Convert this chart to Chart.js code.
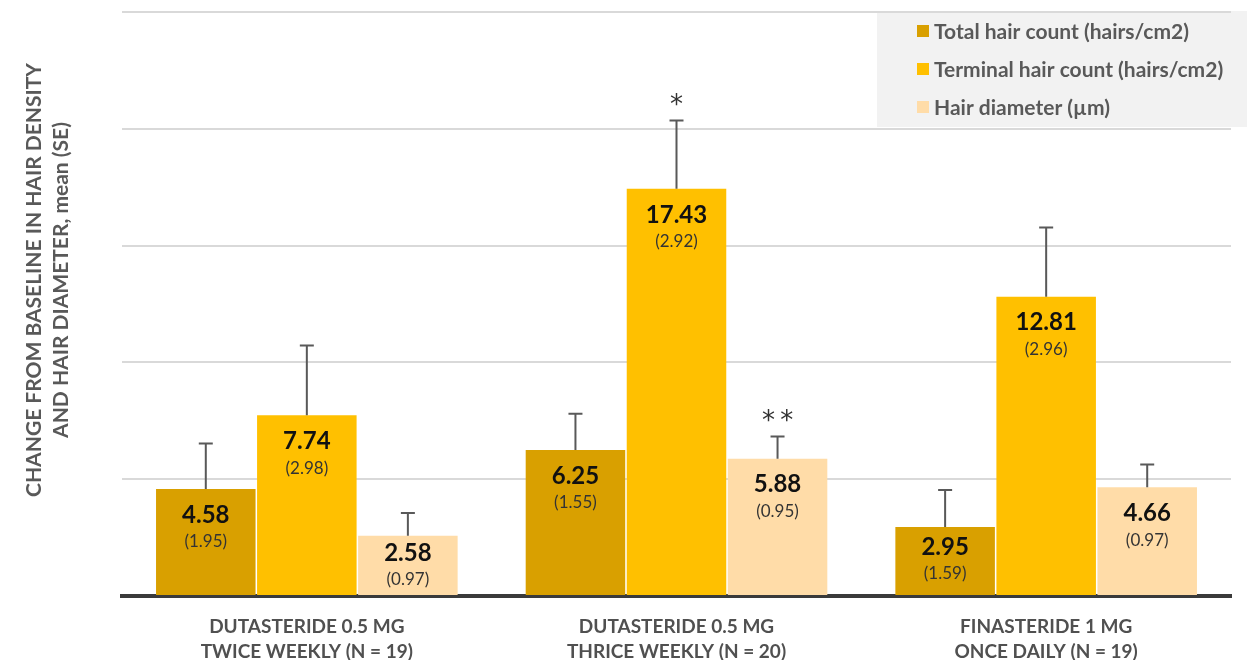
<!DOCTYPE html>
<html>
<head>
<meta charset="utf-8">
<title>Hair density and diameter change</title>
<script src="https://cdn.jsdelivr.net/npm/chart.js@4"></script>
<style>
  html, body { margin: 0; padding: 0; background: #fff; }
  #wrap { width: 1247px; height: 660px; position: relative; }
</style>
</head>
<body>
<div id="wrap"><canvas id="chart"></canvas></div>
<script>
const groups = [
    ['DUTASTERIDE 0.5 MG', 'TWICE WEEKLY (N = 19)'],
    ['DUTASTERIDE 0.5 MG', 'THRICE WEEKLY (N = 20)'],
    ['FINASTERIDE 1 MG', 'ONCE DAILY (N = 19)']
];
const seriesNames = ['Total hair count (hairs/cm2)', 'Terminal hair count (hairs/cm2)', 'Hair diameter (µm)'];
const seriesColors = ['#d9a000', '#ffc000', '#ffdca8'];

const totalCount = [4.58, 6.25, 2.95];
const terminalCount = [7.74, 17.43, 12.81];
const diameter = [2.58, 5.88, 4.66];

const totalSE = [1.95, 1.55, 1.59];
const terminalSE = [2.98, 2.92, 2.96];
const diameterSE = [0.97, 0.95, 0.97];

const totalSig = ['', '', ''];
const terminalSig = ['', '*', ''];
const diameterSig = ['', '**', ''];

const yTicks = [0, 5, 10, 15, 20, 25];

const FONT = 'Lato, "Open Sans", sans-serif';
const GREY = '#595959';

// error bars, value labels and significance marks on top of the bars
const barExtras = {
    id: 'barExtras',
    afterDatasetsDraw(chart) {
        const ctx = chart.ctx;
        const y = chart.scales.y;
        chart.data.datasets.forEach((ds, di) => {
            const meta = chart.getDatasetMeta(di);
            meta.data.forEach((bar, i) => {
                const v = ds.data[i];
                const top = y.getPixelForValue(v + ds.se[i]);
                ctx.save();
                ctx.strokeStyle = GREY;
                ctx.lineWidth = 2;
                ctx.beginPath();
                ctx.moveTo(bar.x, bar.y);
                ctx.lineTo(bar.x, top);
                ctx.moveTo(bar.x - 7, top);
                ctx.lineTo(bar.x + 7, top);
                ctx.stroke();

                if (ds.sig[i]) {
                    ctx.fillStyle = '#333';
                    ctx.font = '26px "DejaVu Sans", sans-serif';
                    ctx.textAlign = 'center';
                    ctx.textBaseline = 'middle';
                    ctx.fillText(ds.sig[i].split('').join('\u2009'), bar.x, top - 14);
                }

                const h = bar.base - bar.y;
                const off = Math.min(26, h * 0.29);
                ctx.textAlign = 'center';
                ctx.textBaseline = 'middle';
                ctx.fillStyle = '#111';
                ctx.font = 'bold 24px ' + FONT;
                ctx.fillText(v.toFixed(2), bar.x, bar.y + off);
                ctx.fillStyle = '#333';
                ctx.font = '17px ' + FONT;
                ctx.fillText('(' + ds.se[i].toFixed(2) + ')', bar.x, bar.y + off + 27);
                ctx.restore();
            });
        });
    }
};

// legend panel and rotated axis title
const panel = {
    id: 'panel',
    beforeDraw(chart) {
        const ctx = chart.ctx;
        ctx.save();
        ctx.fillStyle = '#f2f2f2';
        ctx.fillRect(877, 11, 370, 116);
        ctx.restore();
    },
    afterDraw(chart) {
        const ctx = chart.ctx;
        ctx.save();
        ctx.textBaseline = 'middle';
        ctx.textAlign = 'left';
        ctx.font = 'bold 21px ' + FONT;
        seriesNames.forEach((name, i) => {
            const cy = 31 + i * 38;
            ctx.fillStyle = seriesColors[i];
            ctx.fillRect(917, cy - 6, 12, 12);
            ctx.fillStyle = GREY;
            ctx.fillText(name, 934, cy + 1);
        });

        ctx.translate(0, 280);
        ctx.rotate(-Math.PI / 2);
        ctx.textAlign = 'center';
        ctx.font = 'bold 21px ' + FONT;
        ctx.fillStyle = GREY;
        ctx.fillText('CHANGE FROM BASELINE IN HAIR DENSITY', 0, 34);
        ctx.fillText('AND HAIR DIAMETER, mean (SE)', 0, 61);
        ctx.restore();
    }
};

function makeSet(i, data, se, sig) {
    return {
        label: seriesNames[i],
        data: data,
        se: se,
        sig: sig,
        backgroundColor: seriesColors[i],
        borderWidth: 0,
        categoryPercentage: 0.82,
        barPercentage: 0.985
    };
}

new Chart(document.getElementById('chart'), {
    type: 'bar',
    data: {
        labels: groups,
        datasets: [
            makeSet(0, totalCount, totalSE, totalSig),
            makeSet(1, terminalCount, terminalSE, terminalSig),
            makeSet(2, diameter, diameterSE, diameterSig)
        ]
    },
    options: {
        responsive: true,
        maintainAspectRatio: false,
        animation: false,
        layout: { padding: { left: 122, right: 16, top: 12, bottom: 0 } },
        plugins: {
            legend: { display: false },
            tooltip: { enabled: false }
        },
        scales: {
            x: {
                grid: { display: false, drawTicks: false },
                border: { display: true, color: '#3a3a3a', width: 4 },
                ticks: {
                    color: '#505050',
                    font: { family: FONT, size: 19, weight: 'bold', lineHeight: 1.3 },
                    padding: 19,
                    maxRotation: 0
                },
                afterFit(scale) { scale.height = 64; }
            },
            y: {
                min: yTicks[0],
                max: yTicks[yTicks.length - 1],
                afterBuildTicks(scale) { scale.ticks = yTicks.map(v => ({ value: v })); },
                ticks: { display: false },
                grid: { color: '#d9d9d9', lineWidth: 2, drawTicks: false },
                border: { display: false },
                afterFit(scale) { scale.width = 0; }
            }
        }
    },
    plugins: [panel, barExtras]
});
</script>
</body>
</html>
